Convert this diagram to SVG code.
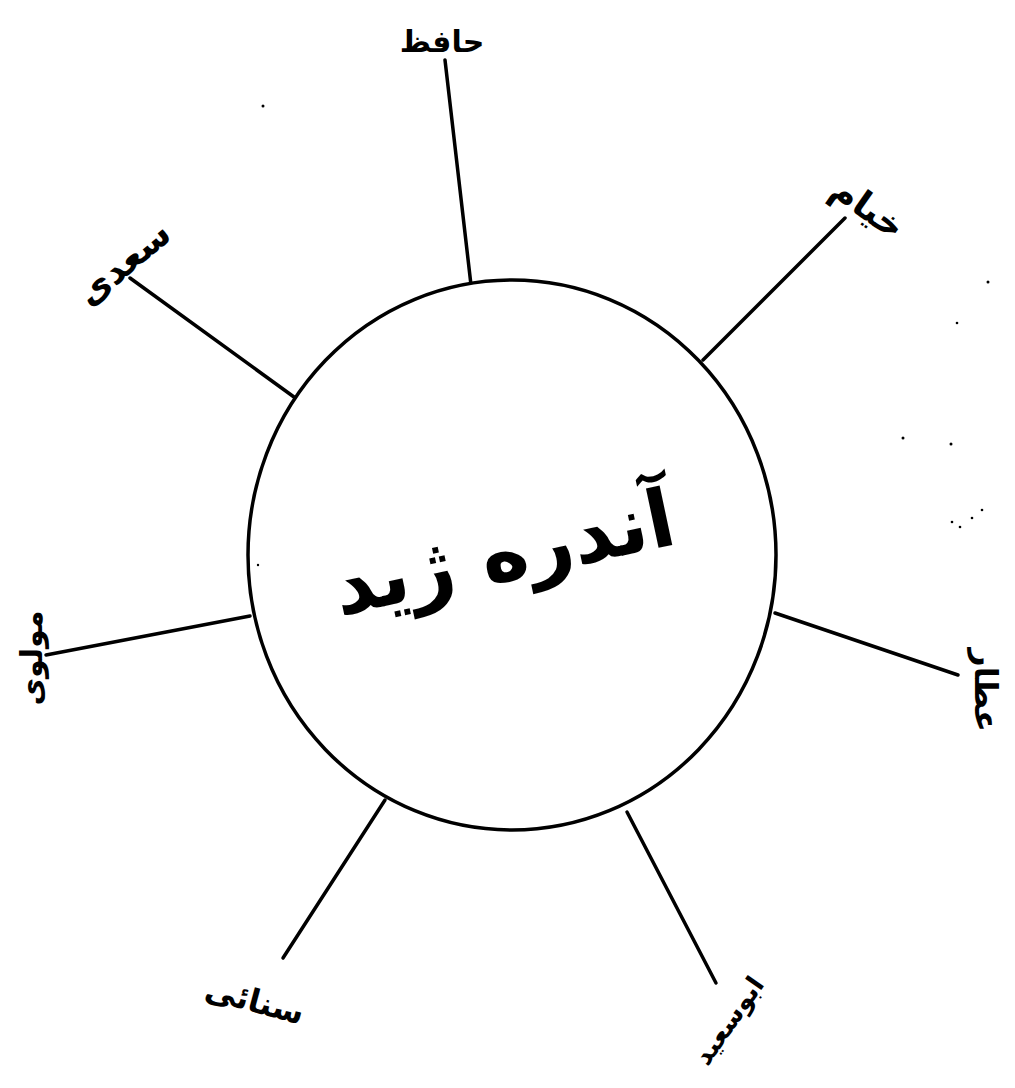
<svg xmlns="http://www.w3.org/2000/svg" width="1015" height="1088" viewBox="0 0 1015 1088">
<style>
.lbl{font-family:"DejaVu Sans","Noto Sans",sans-serif;font-weight:bold;fill:#000;text-anchor:middle}
.spoke{stroke:#000;stroke-width:3.5;stroke-linecap:round;fill:none}
.speck{fill:#000}
</style>
<rect width="1015" height="1088" fill="#fff"/>
<g id="connectors">
<line class="spoke" x1="445" y1="60" x2="471" y2="285"/>
<line class="spoke" x1="845" y1="218" x2="703" y2="360"/>
<line class="spoke" x1="130" y1="278" x2="294" y2="397"/>
<line class="spoke" x1="46" y1="655" x2="250" y2="616"/>
<line class="spoke" x1="775" y1="613" x2="958" y2="675"/>
<line class="spoke" x1="385" y1="800" x2="283" y2="958"/>
<line class="spoke" x1="627" y1="812" x2="716" y2="983"/>
</g>
<g id="center">
<ellipse cx="512" cy="555" rx="264" ry="275" fill="#fff" stroke="#000" stroke-width="3.5"/>
<text class="lbl" x="505" y="580" font-size="80" transform="rotate(-12 505 560)">آندره ژید</text>
</g>
<g id="hafez"><text class="lbl" x="442" y="52" font-size="30">حافظ</text></g>
<g id="top-right"><text class="lbl" x="868" y="220" font-size="36" transform="rotate(35 868 208)">خیام</text></g>
<g id="saadi"><text class="lbl" x="125" y="275" font-size="36" transform="rotate(-40 125 265)">سعدی</text></g>
<g id="mowlavi"><text class="lbl" x="30" y="670" font-size="30" transform="rotate(-90 30 658)">مولوی</text></g>
<g id="attar"><text class="lbl" x="987" y="702" font-size="32" transform="rotate(90 987 690)">عطار</text></g>
<g id="bottom-left"><text class="lbl" x="255" y="1012" font-size="32" transform="rotate(15 255 1000)">سنائی</text></g>
<g id="bottom-right"><text class="lbl" x="728" y="1030" font-size="26" transform="rotate(-55 728 1020)">ابوسعید</text></g>
<g id="specks">
<circle class="speck" cx="263" cy="106" r="1.5"/>
<circle class="speck" cx="988" cy="282" r="1.5"/>
<circle class="speck" cx="957" cy="323" r="1.3"/>
<circle class="speck" cx="903" cy="438" r="1.5"/>
<circle class="speck" cx="951" cy="444" r="1.5"/>
<circle class="speck" cx="952" cy="522" r="1.3"/>
<circle class="speck" cx="960" cy="527" r="1.3"/>
<circle class="speck" cx="972" cy="518" r="1.3"/>
<circle class="speck" cx="982" cy="510" r="1.3"/>
<circle class="speck" cx="258" cy="565" r="1.2"/>
</g>
</svg>
